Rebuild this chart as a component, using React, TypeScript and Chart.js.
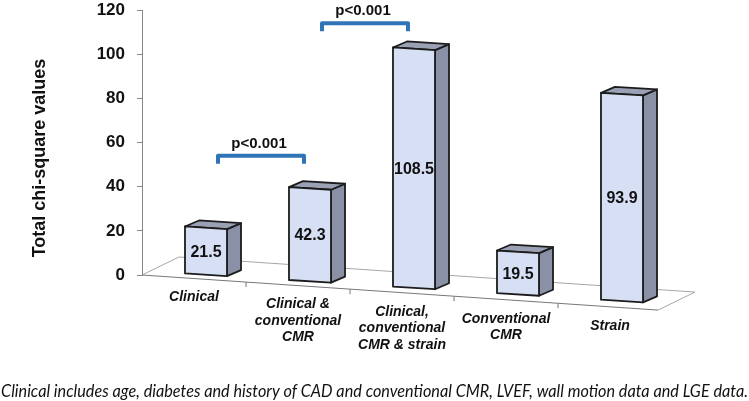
import { useEffect, useRef } from 'react';
import { Chart, registerables } from 'chart.js';

Chart.register(...registerables);

// ─── Data ─────────────────────────────────────────────────────────────────────

const CATEGORIES = [
  ['Clinical'],
  ['Clinical &', 'conventional', 'CMR'],
  ['Clinical,', 'conventional', 'CMR & strain'],
  ['Conventional', 'CMR'],
  ['Strain'],
];
const CHI_SQUARE = [21.5, 42.3, 108.5, 19.5, 93.9];
const Y_MIN = 0;
const Y_MAX = 120;
const Y_STEP = 20;
const COMPARE_FROM = [0, 1];
const COMPARE_TO = [1, 2];
const COMPARE_LEVEL = [54, 114];
const COMPARE_TEXT = ['p<0.001', 'p<0.001'];
const Y_TITLE = 'Total chi-square values';
const FOOTNOTE =
  'Clinical includes age, diabetes and history of CAD and conventional CMR, LVEF, wall motion data and LGE data.';

// ─── Look ─────────────────────────────────────────────────────────────────────

const ARIAL = '"Liberation Sans", Arial, sans-serif';
const SHEAR = 0.063;          // perspective tilt of the floor
const SHIFT_X = 12;
const SHIFT_Y = -3;
const DEPTH_X = 14;
const DEPTH_Y = -6;
const FLOOR_SLOPE = 0.068;
const FLOOR_DEPTH_X = 37;
const FLOOR_DEPTH_Y = -18;
const FRONT = '#d6dff4';
const SIDE = '#8a91a6';
const TOP = '#9ba1b5';
const EDGE = '#1c1c1c';
const BRACKET = '#2f74b5';

const poly = (ctx: CanvasRenderingContext2D, pts: number[][], fill: string) => {
  ctx.beginPath();
  pts.forEach(([x, y], i) => (i ? ctx.lineTo(x, y) : ctx.moveTo(x, y)));
  ctx.closePath();
  ctx.fillStyle = fill;
  ctx.fill();
  ctx.stroke();
};

const scene3d = {
  id: 'scene3d',
  beforeDatasetsDraw(chart: Chart) {
    const { ctx, chartArea, scales } = chart;
    const x0 = chartArea.left;
    const yb = chartArea.bottom;
    const front = (x: number) => yb + FLOOR_SLOPE * (x - x0);
    ctx.save();
    ctx.strokeStyle = '#a6a6a6';
    ctx.lineWidth = 1;
    const r = chartArea.right - 4;
    ctx.beginPath();
    ctx.moveTo(x0, yb);
    ctx.lineTo(x0 + FLOOR_DEPTH_X, yb + FLOOR_DEPTH_Y);
    ctx.lineTo(r + FLOOR_DEPTH_X, front(r) + FLOOR_DEPTH_Y);
    ctx.lineTo(r, front(r));
    ctx.stroke();
    ctx.strokeStyle = '#777';
    ctx.beginPath();
    ctx.moveTo(x0, yb);
    ctx.lineTo(r, front(r));
    const xs = scales.x;
    for (let i = 1; i < CATEGORIES.length; i++) {
      const bx = (xs.getPixelForValue(i - 1) + xs.getPixelForValue(i)) / 2;
      ctx.moveTo(bx, front(bx));
      ctx.lineTo(bx, front(bx) + 5);
    }
    ctx.stroke();

    // category labels follow the tilted floor
    ctx.fillStyle = '#111';
    ctx.font = `italic bold 14px ${ARIAL}`;
    ctx.textAlign = 'center';
    ctx.textBaseline = 'middle';
    CATEGORIES.forEach((lines, i) => {
      const cx = xs.getPixelForValue(i);
      const y1 = front(cx) + 19;
      lines.forEach((t, k) => ctx.fillText(t, cx, y1 + k * 16.5));
    });
    ctx.restore();
  },
  afterDatasetsDraw(chart: Chart) {
    const { ctx, chartArea, scales } = chart;
    const x0 = chartArea.left;
    const P = (x: number, y: number) => [x + SHIFT_X, y + SHIFT_Y + SHEAR * (x - x0)];
    const meta = chart.getDatasetMeta(0);
    ctx.save();
    ctx.strokeStyle = EDGE;
    ctx.lineWidth = 1.8;
    ctx.lineJoin = 'round';
    meta.data.forEach((el: any, i: number) => {
      const l = el.x - el.width / 2;
      const r = el.x + el.width / 2;
      const fl = P(l, el.y), fr = P(r, el.y), br = P(r, el.base), bl = P(l, el.base);
      const d = (p: number[]) => [p[0] + DEPTH_X, p[1] + DEPTH_Y];
      poly(ctx, [fr, d(fr), d(br), br], SIDE);
      poly(ctx, [fl, d(fl), d(fr), fr], TOP);
      poly(ctx, [fl, fr, br, bl], FRONT);
      const c = P(el.x, (el.y + el.base) / 2);
      ctx.fillStyle = '#111';
      ctx.font = `bold 16px ${ARIAL}`;
      ctx.textAlign = 'center';
      ctx.textBaseline = 'middle';
      ctx.fillText(String(CHI_SQUARE[i]), c[0], c[1] + 1);
    });

    // significance brackets
    const xs = scales.x, ys = scales.y;
    ctx.strokeStyle = BRACKET;
    ctx.lineWidth = 4;
    ctx.lineJoin = 'round';
    ctx.lineCap = 'butt';
    COMPARE_FROM.forEach((from, k) => {
      const a = xs.getPixelForValue(from) + 24;
      const b = xs.getPixelForValue(COMPARE_TO[k]) + 6;
      const y = ys.getPixelForValue(COMPARE_LEVEL[k]);
      ctx.beginPath();
      ctx.moveTo(a, y + 8);
      ctx.lineTo(a, y);
      ctx.lineTo(b, y);
      ctx.lineTo(b, y + 8);
      ctx.stroke();
      ctx.fillStyle = '#111';
      ctx.font = `bold 15px ${ARIAL}`;
      ctx.textAlign = 'center';
      ctx.textBaseline = 'middle';
      ctx.fillText(COMPARE_TEXT[k], (a + b) / 2 - 2, y - 12);
    });
    ctx.restore();
  },
  afterDraw(chart: Chart) {
    const { ctx } = chart;
    ctx.save();
    ctx.fillStyle = '#111';
    ctx.font = `bold 18px ${ARIAL}`;
    ctx.textAlign = 'center';
    ctx.textBaseline = 'middle';
    ctx.translate(40, 158);
    ctx.rotate(-Math.PI / 2);
    ctx.fillText(Y_TITLE, 0, 0, 201);
    ctx.restore();

    ctx.save();
    ctx.fillStyle = '#111';
    ctx.font = 'italic 17px Lato, "Open Sans", sans-serif';
    ctx.textAlign = 'left';
    ctx.textBaseline = 'alphabetic';
    ctx.fillText(FOOTNOTE, 1, 397, 747);
    ctx.restore();
  },
};

function ChiSquareChart() {
  const canvasRef = useRef<HTMLCanvasElement>(null);
  const chartRef = useRef<Chart | null>(null);

  useEffect(() => {
    if (!canvasRef.current) return;
    const existing = Chart.getChart(canvasRef.current);
    if (existing) existing.destroy();
    chartRef.current?.destroy();

    chartRef.current = new Chart(canvasRef.current, {
      type: 'bar',
      data: {
        labels: CATEGORIES,
        datasets: [{
          data: CHI_SQUARE,
          backgroundColor: 'rgba(0,0,0,0)',
          borderWidth: 0,
          barPercentage: 0.404,
          categoryPercentage: 1,
        }],
      },
      options: {
        responsive: false,
        animation: false,
        events: [],
        layout: { padding: { left: 82, right: 87, top: 0, bottom: 126 } },
        plugins: { legend: { display: false }, tooltip: { enabled: false } },
        scales: {
          x: { display: false },
          y: {
            min: Y_MIN,
            max: Y_MAX,
            afterFit: (s: any) => { s.width = 60; s.paddingTop = 10; s.paddingBottom = 0; },
            ticks: {
              stepSize: Y_STEP,
              padding: 12,
              color: '#111',
              font: { family: ARIAL, size: 17, weight: 'bold' },
            },
            grid: { drawOnChartArea: false, tickLength: 5, color: '#888' },
            border: { color: '#888' },
          },
        },
      },
      plugins: [scene3d],
    });

    return () => { chartRef.current?.destroy(); chartRef.current = null; };
  }, []);

  return <canvas ref={canvasRef} width={749} height={401} />;
}

export default function App() {
  useEffect(() => { document.body.style.margin = '0'; }, []);
  return (
    <div style={{ width: 749, height: 401, background: '#fff' }}>
      <ChiSquareChart />
    </div>
  );
}
